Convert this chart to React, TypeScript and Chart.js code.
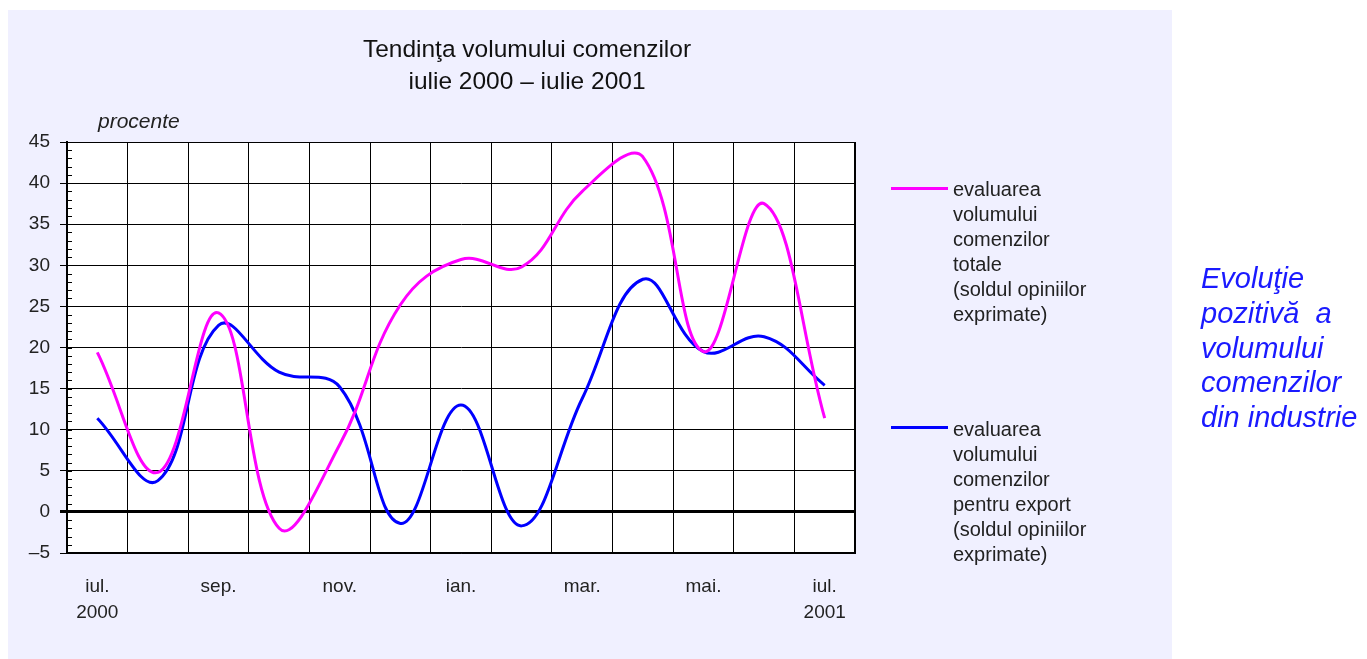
import React, { useEffect, useRef } from "react";
import { Chart, registerables } from "chart.js";

Chart.register(...registerables);

const months = ["iul.", "aug.", "sep.", "oct.", "nov.", "dec.", "ian.", "feb.", "mar.", "apr.", "mai.", "iun.", "iul."];
const tickLabels: (string | string[])[] = [["iul.", "2000"], "", "sep.", "", "nov.", "", "ian.", "", "mar.", "", "mai.", "", ["iul.", "2001"]];
const totalOrders = [19.4, 4.8, 24.2, -2.0, 8.2, 25.2, 30.7, 29.8, 39.0, 43.2, 19.5, 37.5, 11.4];
const exportOrders = [11.4, 3.8, 22.7, 17.0, 15.2, -1.4, 13.0, -1.7, 13.8, 28.3, 19.5, 21.3, 15.4];
const totalLegend = ["evaluarea", "volumului", "comenzilor", "totale", "(soldul opiniilor", "exprimate)"];
const exportLegend = ["evaluarea", "volumului", "comenzilor", "pentru export", "(soldul opiniilor", "exprimate)"];
const titleLines = ["Tendinţa volumului comenzilor", "iulie 2000 – iulie 2001"];
const captionLines = ["Evoluţie", "pozitivă  a", "volumului", "comenzilor", "din industrie"];

const FONT = '"Liberation Sans", Arial, Helvetica, sans-serif';

const plotPlugin = {
  id: "plotDecor",
  beforeDraw(chart: any) {
    const { ctx, chartArea } = chart;
    ctx.save();
    ctx.fillStyle = "#ffffff";
    ctx.fillRect(chartArea.left, chartArea.top, chartArea.right - chartArea.left, chartArea.bottom - chartArea.top);
    ctx.restore();
  },
  beforeDatasetsDraw(chart: any) {
    const { ctx, chartArea, scales } = chart;
    const y = scales.y;
    ctx.save();
    ctx.strokeStyle = "#000";
    ctx.lineWidth = 1;
    ctx.beginPath();
    for (let v = y.min; v <= y.max; v += 1) {
      const py = Math.round(y.getPixelForValue(v)) + 0.5;
      ctx.moveTo(chartArea.left, py);
      ctx.lineTo(chartArea.left + 5, py);
    }
    ctx.stroke();
    ctx.lineWidth = 1;
    ctx.strokeRect(chartArea.left + 0.5, chartArea.top + 0.5, chartArea.right - chartArea.left - 1, chartArea.bottom - chartArea.top - 1);
    ctx.restore();
  },
};

export default function App() {
  const ref = useRef<HTMLCanvasElement>(null);

  useEffect(() => {
    const chart = new Chart(ref.current!, {
      type: "line",
      data: {
        labels: months,
        datasets: [
          {
            label: "evaluarea volumului comenzilor totale (soldul opiniilor exprimate)",
            data: totalOrders,
            borderColor: "#ff00ff",
            borderWidth: 3,
            pointRadius: 0,
            tension: 0.4,
            fill: false,
          },
          {
            label: "evaluarea volumului comenzilor pentru export (soldul opiniilor exprimate)",
            data: exportOrders,
            borderColor: "#0000ff",
            borderWidth: 3,
            pointRadius: 0,
            tension: 0.4,
            fill: false,
          },
        ],
      },
      options: {
        animation: false,
        responsive: false,
        devicePixelRatio: 1,
        layout: { padding: { left: 9, right: 317, top: 132, bottom: 16 } },
        plugins: {
          legend: { display: false },
          title: { display: false },
          tooltip: { enabled: false },
        },
        scales: {
          x: {
            offset: true,
            grid: {
              offset: true,
              color: "#000",
              lineWidth: 1,
              drawTicks: false,
            },
            border: { color: "#000", width: 1 },
            ticks: {
              autoSkip: false,
              maxRotation: 0,
              minRotation: 0,
              padding: 20,
              color: "#222",
              font: { family: FONT, size: 19, lineHeight: 1.4 },
              callback: (_v: any, i: number) => tickLabels[i],
            },
            afterFit: (s: any) => {
              s.height = 90;
            },
          },
          y: {
            min: -5,
            max: 45,
            grid: {
              color: "#000",
              lineWidth: (c: any) => (c.tick && c.tick.value === 0 ? 3 : 1),
              drawTicks: true,
              tickLength: 7,
              tickColor: "#000",
            },
            border: { color: "#000", width: 2 },
            ticks: {
              stepSize: 5,
              padding: 10,
              color: "#222",
              font: { family: FONT, size: 19 },
              callback: (v: any) => (v < 0 ? "–" + Math.abs(v) : String(v)),
            },
            afterFit: (s: any) => {
              s.width = 50;
            },
          },
        },
      },
      plugins: [plotPlugin],
    });
    return () => chart.destroy();
  }, []);

  const legendText: React.CSSProperties = {
    position: "absolute",
    left: 945,
    fontFamily: FONT,
    fontSize: 20,
    lineHeight: "25px",
    color: "#222",
    whiteSpace: "nowrap",
  };

  return (
    <div>
      <div
        style={{
          position: "fixed",
          left: 8,
          top: 10,
          width: 1164,
          height: 649,
          background: "#f0f0ff",
          overflow: "hidden",
        }}
      >
        <canvas ref={ref} width={1164} height={649} style={{ position: "absolute", left: 0, top: 0, display: "block" }} />
        <div
          style={{
            position: "absolute",
            left: 269,
            top: 23,
            width: 500,
            textAlign: "center",
            fontFamily: FONT,
            fontSize: 24.5,
            lineHeight: "32px",
            color: "#111",
          }}
        >
          {titleLines.map((t, i) => (
            <div key={i}>{t}</div>
          ))}
        </div>
        <div
          style={{
            position: "absolute",
            left: 90,
            top: 100,
            fontFamily: FONT,
            fontSize: 21,
            lineHeight: "21px",
            fontStyle: "italic",
            color: "#222",
          }}
        >
          procente
        </div>
        <div style={{ position: "absolute", left: 883, top: 177, width: 57, height: 3, background: "#ff00ff" }} />
        <div style={{ ...legendText, top: 166.6 }}>
          {totalLegend.map((t, i) => (
            <div key={i}>{t}</div>
          ))}
        </div>
        <div style={{ position: "absolute", left: 883, top: 416, width: 57, height: 3, background: "#0000ff" }} />
        <div style={{ ...legendText, top: 406.6 }}>
          {exportLegend.map((t, i) => (
            <div key={i}>{t}</div>
          ))}
        </div>
      </div>
      <div
        style={{
          position: "fixed",
          left: 1201,
          top: 261,
          fontFamily: FONT,
          fontSize: 29,
          lineHeight: "34.75px",
          fontStyle: "italic",
          color: "#1a1aff",
          whiteSpace: "pre",
        }}
      >
        {captionLines.map((t, i) => (
          <div key={i}>{t}</div>
        ))}
      </div>
    </div>
  );
}
